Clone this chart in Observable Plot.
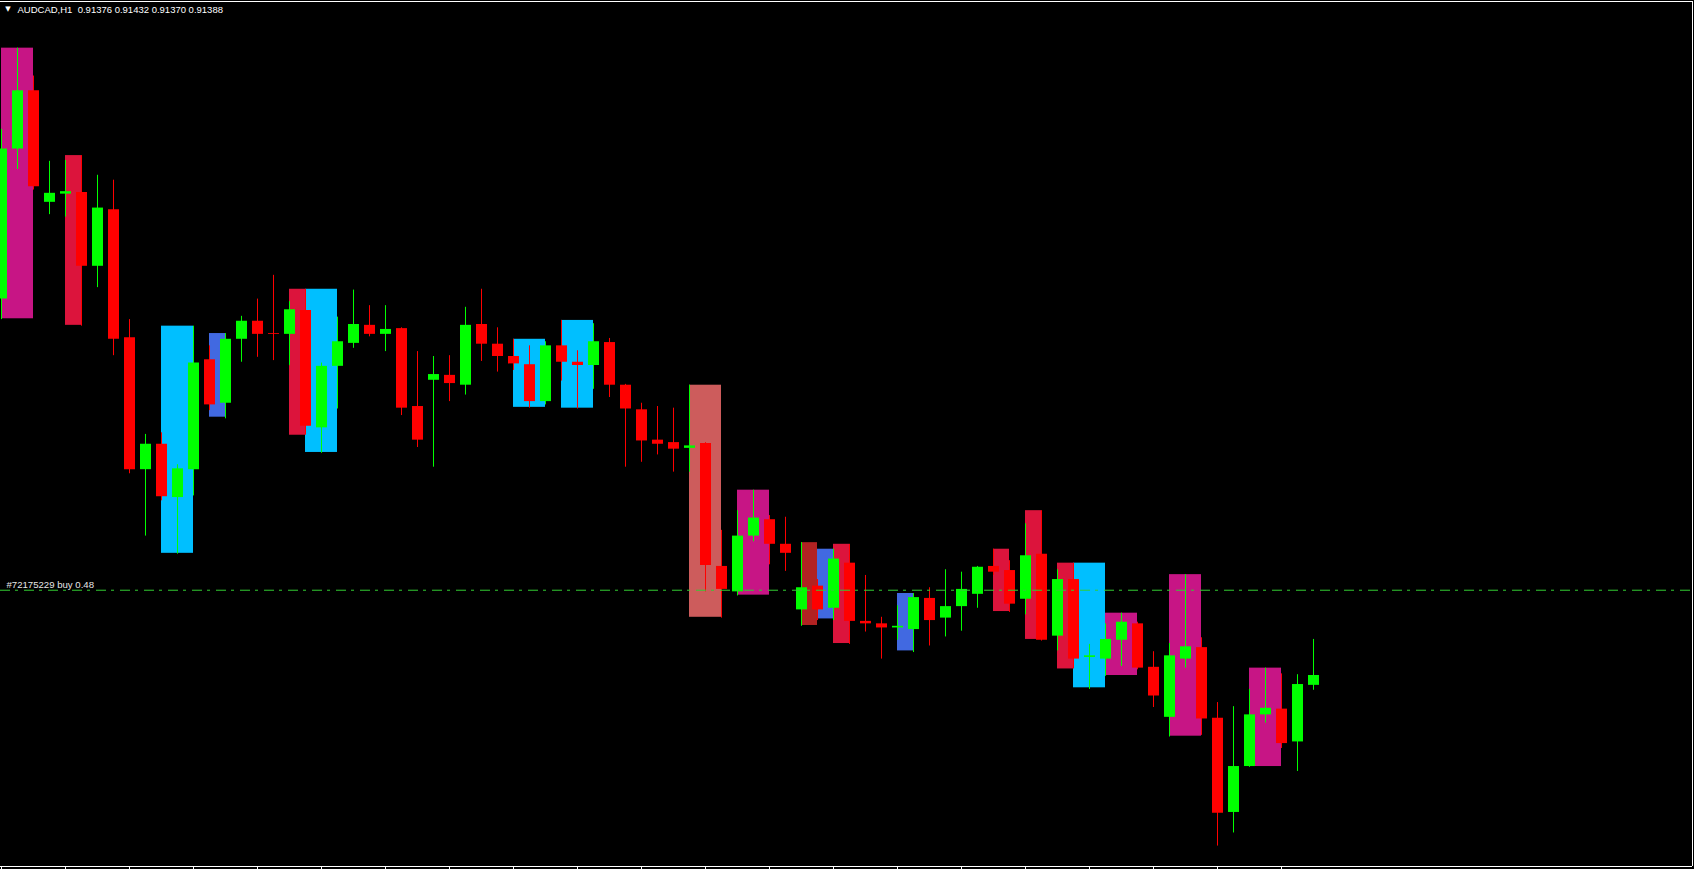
<!DOCTYPE html>
<html>
<head>
<meta charset="utf-8">
<script src="https://cdn.jsdelivr.net/npm/d3@7"></script>
<script src="https://cdn.jsdelivr.net/npm/@observablehq/plot@0.6"></script>
<style>
html, body { margin: 0; padding: 0; background: #000; overflow: hidden; }
#chart svg { display: block; }
</style>
</head>
<body>
<div id="chart"></div>
<script>
// ---- data (AUDCAD H1) ----
const symbol = "AUDCAD,H1";
const opens = [0.91847,0.92030,0.92101,0.91965,0.91975,0.91977,0.91887,0.91956,0.91800,0.91639,
  0.91670,0.91605,0.91639,0.91773,0.91720,0.91798,0.91820,0.91805,0.91804,0.91833,
  0.91690,0.91765,0.91793,0.91815,0.91804,0.91811,0.91716,0.91748,0.91754,0.91742,
  0.91816,0.91792,0.91777,0.91767,0.91722,0.91790,0.91770,0.91766,0.91794,0.91742,
  0.91712,0.91675,0.91672,0.91665,0.91671,0.91521,0.91490,0.91558,0.91578,0.91548,
  0.91468,0.91497,0.91470,0.91525,0.91454,0.91451,0.91446,0.91444,0.91482,0.91458,
  0.91472,0.91487,0.91521,0.91516,0.91481,0.91536,0.91436,0.91505,0.91410,0.91408,
  0.91431,0.91451,0.91398,0.91337,0.91408,0.91422,0.91336,0.91221,0.91277,0.91340,
  0.91347,0.91307,0.91376];
const highs = [0.92054,0.92153,0.92119,0.92015,0.92016,0.92022,0.91998,0.91992,0.91822,0.91682,
  0.91684,0.91645,0.91814,0.91790,0.91805,0.91826,0.91847,0.91876,0.91844,0.91859,
  0.91769,0.91825,0.91858,0.91839,0.91839,0.91812,0.91783,0.91777,0.91778,0.91837,
  0.91859,0.91812,0.91798,0.91790,0.91795,0.91821,0.91784,0.91817,0.91799,0.91743,
  0.91720,0.91716,0.91714,0.91742,0.91672,0.91565,0.91589,0.91614,0.91583,0.91581,
  0.91550,0.91505,0.91542,0.91548,0.91510,0.91459,0.91473,0.91488,0.91495,0.91517,
  0.91514,0.91521,0.91542,0.91528,0.91573,0.91589,0.91517,0.91525,0.91426,0.91451,
  0.91464,0.91453,0.91417,0.91427,0.91511,0.91434,0.91355,0.91350,0.91371,0.91397,
  0.91390,0.91389,0.91432];
const lows = [0.91822,0.92005,0.91980,0.91950,0.91947,0.91814,0.91861,0.91778,0.91634,0.91558,
  0.91601,0.91536,0.91607,0.91711,0.91701,0.91770,0.91776,0.91772,0.91766,0.91681,
  0.91659,0.91713,0.91787,0.91801,0.91783,0.91705,0.91666,0.91642,0.91722,0.91730,
  0.91771,0.91758,0.91760,0.91714,0.91718,0.91747,0.91713,0.91737,0.91727,0.91642,
  0.91648,0.91657,0.91636,0.91636,0.91490,0.91458,0.91485,0.91551,0.91523,0.91515,
  0.91448,0.91455,0.91455,0.91426,0.91441,0.91408,0.91431,0.91416,0.91424,0.91435,
  0.91442,0.91470,0.91510,0.91465,0.91462,0.91430,0.91418,0.91396,0.91371,0.91387,
  0.91399,0.91395,0.91349,0.91313,0.91397,0.91315,0.91180,0.91196,0.91276,0.91330,
  0.91299,0.91271,0.91370];
const closes = [0.92030,0.92101,0.91984,0.91976,0.91978,0.91887,0.91958,0.91798,0.91639,0.91670,
  0.91606,0.91640,0.91769,0.91718,0.91798,0.91820,0.91804,0.91804,0.91834,0.91692,
  0.91765,0.91795,0.91816,0.91804,0.91810,0.91714,0.91675,0.91755,0.91744,0.91815,
  0.91792,0.91777,0.91768,0.91722,0.91790,0.91770,0.91766,0.91795,0.91742,0.91713,
  0.91674,0.91670,0.91664,0.91668,0.91522,0.91493,0.91558,0.91580,0.91548,0.91537,
  0.91495,0.91468,0.91530,0.91454,0.91451,0.91446,0.91448,0.91483,0.91455,0.91472,
  0.91493,0.91520,0.91514,0.91475,0.91534,0.91431,0.91505,0.91408,0.91412,0.91432,
  0.91453,0.91397,0.91363,0.91412,0.91423,0.91335,0.91220,0.91277,0.91340,0.91348,
  0.91305,0.91377,0.91388];

// pattern boxes: first candle, last candle, high, low, colour
const boxStart = [0,4,10,13,18,19,32,35,43,46,50,51,52,56,62,64,66,67,69,73,78];
const boxEnd   = [2,5,12,14,19,21,34,37,45,48,51,52,53,57,63,65,67,69,71,75,80];
const boxHigh  = [0.92153,0.92022,0.91814,0.91805,0.91859,0.91859,0.91798,0.91821,0.91742,0.91614,
  0.91550,0.91542,0.91548,0.91488,0.91542,0.91589,0.91525,0.91525,0.91464,0.91511,0.91397];
const boxLow   = [0.91823,0.91815,0.91537,0.91703,0.91681,0.91660,0.91715,0.91714,0.91459,0.91486,
  0.91449,0.91457,0.91427,0.91418,0.91466,0.91432,0.91396,0.91373,0.91388,0.91314,0.91277];
const boxColor = ["#C71585","#DC143C","#00BFFF","#4169E1","#DC143C","#00BFFF","#00BFFF","#00BFFF",
  "#CD5C5C","#C71585","#B22222","#4169E1","#DC143C","#4169E1","#DC143C","#DC143C","#DC143C",
  "#00BFFF","#C71585","#C71585","#C71585"];

const orderPrice = 0.91492;
const orderLabel = "#72175229 buy 0.48";
const tickCandles = [0,4,8,12,16,20,24,28,32,36,40,44,48,52,56,60,64,68,72,76,80];

// visible window of the chart
const xDomain = [0, 105.6875];
const yDomain = [0.911551, 0.922099];

// ---- build ----
const candles = opens.map((o, i) => ({i, o, h: highs[i], l: lows[i], c: closes[i]}));
const candleColor = d => d.c >= d.o ? "#00FF00" : "#FF0000";
const boxes = boxStart.map((s, k) => ({s, e: boxEnd[k], hi: boxHigh[k], lo: boxLow[k], color: boxColor[k]}));
const last = candles[candles.length - 1];
const title = `${symbol}\u00a0\u00a0${last.o.toFixed(5)} ${last.h.toFixed(5)} ${last.l.toFixed(5)} ${last.c.toFixed(5)}`;

const font = "Liberation Sans, Arial, sans-serif";

const chart = Plot.plot({
  width: 1694,
  height: 869,
  marginTop: 1,
  marginLeft: 0,
  marginRight: 2,
  marginBottom: 3,
  style: {background: "#000", color: "white"},
  x: {domain: xDomain, range: [1, 1692], ticks: tickCandles, tickSize: 3, tickFormat: () => "", label: null},
  y: {domain: yDomain, axis: null},
  color: {type: "identity"},
  marks: [
    Plot.rect(boxes, {x1: "s", x2: "e", y1: "lo", y2: "hi", fill: d => d.color}),
    Plot.ruleX(candles, {x: "i", y1: "l", y2: "h", stroke: candleColor, strokeWidth: 1}),
    Plot.ruleX(candles, {x: "i", y1: "o", y2: "c", stroke: candleColor, strokeWidth: 11}),
    Plot.ruleY([orderPrice], {stroke: "#32CD32", strokeWidth: 1, strokeDasharray: "10,5,3,6"}),
    Plot.text([orderLabel], {text: d => d, frameAnchor: "left", y: () => orderPrice, dx: 6, dy: -5,
      textAnchor: "start", fill: "#e6e6e6", fontSize: 9.6, fontFamily: font}),
    Plot.ruleY([yDomain[1]], {stroke: "white"}),
    Plot.ruleY([yDomain[0]], {stroke: "white"}),
    Plot.ruleX([xDomain[1]], {stroke: "white"}),
    Plot.text(["\u25BC"], {text: d => d, frameAnchor: "top-left", dx: 7.5, dy: 5, textAnchor: "middle",
      lineAnchor: "top", fill: "white", fontSize: 7, fontFamily: "DejaVu Sans"}),
    Plot.text([title], {text: d => d, frameAnchor: "top-left", dx: 17, dy: 5, textAnchor: "start",
      lineAnchor: "top", fill: "white", fontSize: 9.5, fontFamily: font})
  ]
});
document.getElementById("chart").appendChild(chart);
</script>
</body>
</html>
